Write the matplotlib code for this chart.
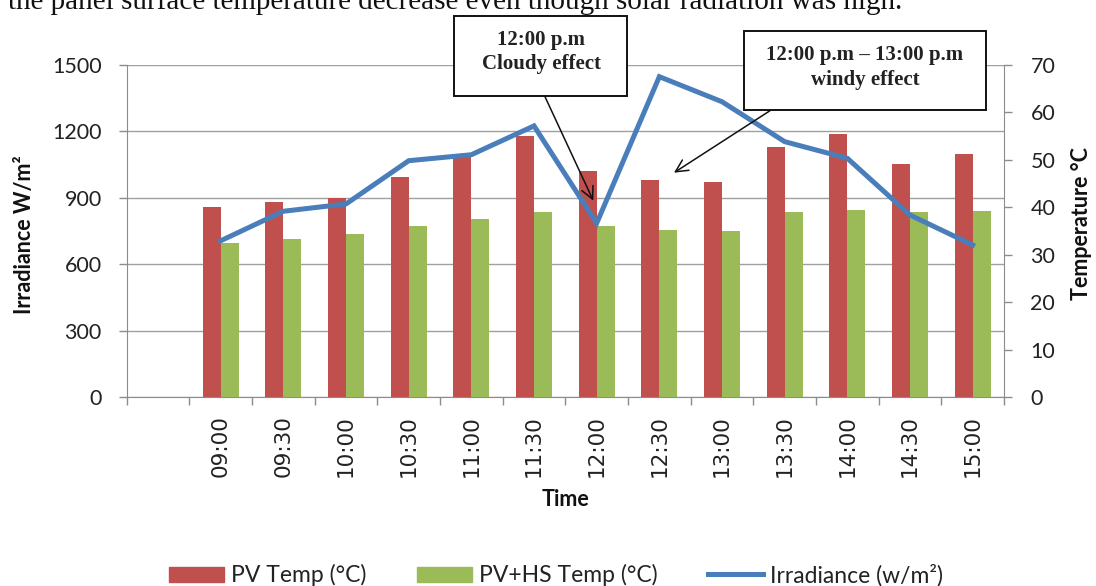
import numpy as np
import matplotlib
matplotlib.use("Agg")
import matplotlib.pyplot as plt
from matplotlib.patches import Rectangle, Patch
from matplotlib.lines import Line2D

# ---- data ----
categories = ["", "09:00", "09:30", "10:00", "10:30", "11:00", "11:30", "12:00",
              "12:30", "13:00", "13:30", "14:00", "14:30", "15:00"]
pv_temp = [40.0, 41.0, 41.9, 46.4, 51.3, 55.0, 47.6, 45.7, 45.3, 52.7, 55.4, 49.0, 51.3]
pvhs_temp = [32.5, 33.3, 34.3, 36.1, 37.5, 39.0, 36.1, 35.2, 35.0, 38.9, 39.5, 38.9, 39.3]
irradiance = [706, 839, 872, 1067, 1094, 1224, 785, 1446, 1333, 1153, 1078, 822, 687]
irr_ticks = [0, 300, 600, 900, 1200, 1500]
temp_ticks = [0, 10, 20, 30, 40, 50, 60, 70]

RED = "#C0504D"
GREEN = "#9BBB59"
BLUE = "#4A7EBB"
GRID = "#A0A0A0"
SPINE = "#8C8C8C"

W, H = 1096, 586
fig = plt.figure(figsize=(W / 100, H / 100), dpi=100)
plt.rcParams["font.family"] = ["Lato", "DejaVu Sans"]

def fx(x):
    return x / W

def fy(y):
    return 1 - y / H

left, right, top, bottom = 126.7, 1004, 64.7, 397.3
rect = [fx(left), fy(bottom), fx(right) - fx(left), (bottom - top) / H]

# base axes: irradiance scale, gridlines
ax = fig.add_axes(rect)
ax2 = ax.twinx()  # temperature bars
ax3 = ax.twinx()  # irradiance line on top

ax.set_zorder(0)
ax2.set_zorder(1)
ax3.set_zorder(2)
ax2.patch.set_visible(False)
ax3.patch.set_visible(False)

n = len(categories)
pos = np.arange(n)
data_pos = pos[1:]
w = 0.287

ax2.bar(data_pos - w / 2, pv_temp, width=w, color=RED, label="PV Temp (°C)")
ax2.bar(data_pos + w / 2, pvhs_temp, width=w, color=GREEN, label="PV+HS Temp (°C)")
ax3.plot(data_pos, irradiance, color=BLUE, lw=3.6, solid_joinstyle="miter",
         label="Irradiance (w/m²)")

for a in (ax, ax2, ax3):
    a.set_xlim(-0.5, n - 0.5)
ax.set_ylim(0, 1500)
ax3.set_ylim(0, 1500)
ax2.set_ylim(0, 70)

ax.set_yticks(irr_ticks)
ax.set_yticklabels([str(t) for t in irr_ticks])
ax2.set_yticks(temp_ticks)
ax2.set_yticklabels([str(t) for t in temp_ticks])
ax3.set_yticks([])

ax.grid(axis="y", color=GRID, lw=1.0)
ax.set_axisbelow(True)

# x ticks: labels at centers, tick marks at boundaries
ax.set_xticks(pos)
ax.set_xticklabels(categories, rotation=90, fontsize=15.5,
                   fontfamily="DejaVu Sans", color="#222222")
ax.set_xticks(np.arange(-0.5, n, 1.0), minor=True)
ax.tick_params(axis="x", which="major", length=0, pad=13)
ax.tick_params(axis="x", which="minor", length=6, width=1, color=SPINE, direction="out")
ax.tick_params(axis="y", length=6, width=1, color=SPINE, pad=12, labelsize=15.5,
               labelcolor="#222222")
ax2.tick_params(axis="y", length=6, width=1, color=SPINE, pad=13, labelsize=15.5,
                labelcolor="#222222")
ax2.tick_params(axis="x", length=0, labelbottom=False)
ax3.tick_params(axis="both", length=0, labelbottom=False, labelright=False, labelleft=False)

for a in (ax, ax2, ax3):
    for s in a.spines.values():
        s.set_visible(False)
ax.spines["left"].set_visible(True)
ax.spines["left"].set_color(SPINE)
ax.spines["bottom"].set_visible(True)
ax.spines["bottom"].set_color(SPINE)
ax2.spines["right"].set_visible(True)
ax2.spines["right"].set_color(SPINE)

# axis titles
fig.text(fx(25), fy(235), "Irradiance W/m²", rotation=90, ha="center", va="center",
         fontsize=15.5, fontweight="bold", color="#111111")
fig.text(fx(1082), fy(223), "Temperature °C", rotation=90, ha="center", va="center",
         fontsize=15.5, fontweight="bold", color="#111111")
fig.text(fx(565), fy(500), "Time", ha="center", va="center",
         fontsize=15.5, fontweight="bold", color="#111111")

# cut-off sentence at top
fig.text(fx(8), fy(9), "the panel surface temperature decrease even though solar radiation was high.",
         ha="left", va="baseline", fontsize=21, family="Liberation Serif", color="#111111")

# annotation boxes
def box(x0, y0, x1, y1, lines, ys, cx):
    fig.add_artist(Rectangle((fx(x0), fy(y1)), fx(x1) - fx(x0), (y1 - y0) / H,
                             transform=fig.transFigure, facecolor="white",
                             edgecolor="#111111", lw=1.4, zorder=5))
    for t, yy in zip(lines, ys):
        fig.text(fx(cx), fy(yy), t, ha="center", va="center", fontsize=15,
                 fontweight="bold", family="Liberation Serif", color="#222222", zorder=6)

box(454, 16, 627, 96, ["12:00 p.m", "Cloudy effect"], [40, 64], 541)
box(744, 31, 986, 110, ["12:00 p.m – 13:00 p.m", "windy effect"], [55, 80], 865)

def arrow(x0, y0, x1, y1):
    fig.add_artist(matplotlib.patches.FancyArrowPatch(
        (fx(x0), fy(y0)), (fx(x1), fy(y1)), transform=fig.transFigure,
        arrowstyle="->", mutation_scale=22, lw=1.1, color="#111111", zorder=7,
        shrinkA=0, shrinkB=0))

arrow(545, 96.7, 593.3, 200.7)
arrow(770, 110.7, 674, 172.7)

# legend
handles = [Patch(color=RED, label="PV Temp (°C)"),
           Patch(color=GREEN, label="PV+HS Temp (°C)"),
           Line2D([], [], color=BLUE, lw=3.6, label="Irradiance (w/m²)")]
fig.legend(handles=handles, loc="center", bbox_to_anchor=(fx(556), fy(575)), ncol=3,
           frameon=False, fontsize=16.5, handlelength=2.4, handleheight=0.65,
           handletextpad=0.3, columnspacing=2.2, labelcolor="#222222")

fig.savefig("out.png", dpi=100)
